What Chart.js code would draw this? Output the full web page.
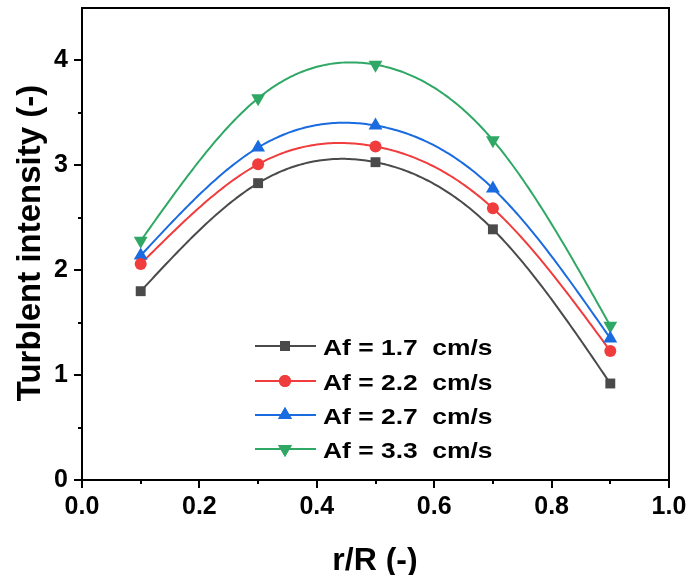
<!DOCTYPE html>
<html>
<head>
<meta charset="utf-8">
<script src="https://cdn.jsdelivr.net/npm/chart.js@4/dist/chart.umd.min.js"></script>
<style>
html,body{margin:0;padding:0;background:#fff;}
#wrap{width:688px;height:575px;position:relative;}
</style>
</head>
<body>
<div id="wrap"><canvas id="c" width="688" height="575"></canvas></div>
<script>
// ---- data ----
const rR = [0.1, 0.3, 0.5, 0.7, 0.9];
const af17 = [1.80, 2.83, 3.03, 2.39, 0.92];
const af22 = [2.06, 3.01, 3.18, 2.59, 1.23];
const af27 = [2.14, 3.17, 3.38, 2.78, 1.35];
const af33 = [2.28, 3.64, 3.96, 3.24, 1.47];
const seriesLabels = ['Af = 1.7  cm/s', 'Af = 2.2  cm/s', 'Af = 2.7  cm/s', 'Af = 3.3  cm/s'];
const xTickLabels = ['0.0', '0.2', '0.4', '0.6', '0.8', '1.0'];
const yTickLabels = ['0', '1', '2', '3', '4'];
const xTitle = 'r/R (-)';
const yTitle = 'Turblent intensity (-)';

const colors = ['#4a4a4a', '#f03c3c', '#1a6be0', '#30a865'];
const styles = [
  {pointStyle: 'rect', rotation: 0, radius: 7},
  {pointStyle: 'circle', rotation: 0, radius: 6},
  {pointStyle: 'triangle', rotation: 0, radius: 8},
  {pointStyle: 'triangle', rotation: 180, radius: 8}
];
const allSeries = [af17, af22, af27, af33];

const FONT = '"Liberation Sans", Arial, Helvetica, sans-serif';

function toPts(vals) { return rR.map((x, i) => ({x: x, y: vals[i]})); }

// natural cubic spline through data points (rendering only)
function splineFn(xs, ys) {
  const n = xs.length;
  const h = [], al = [], l = [1], mu = [0], z = [0], c = new Array(n).fill(0), b = [], d = [];
  for (let i = 0; i < n - 1; i++) h.push(xs[i + 1] - xs[i]);
  for (let i = 1; i < n - 1; i++) al[i] = 3 / h[i] * (ys[i + 1] - ys[i]) - 3 / h[i - 1] * (ys[i] - ys[i - 1]);
  for (let i = 1; i < n - 1; i++) {
    l[i] = 2 * (xs[i + 1] - xs[i - 1]) - h[i - 1] * mu[i - 1];
    mu[i] = h[i] / l[i];
    z[i] = (al[i] - h[i - 1] * z[i - 1]) / l[i];
  }
  l[n - 1] = 1; z[n - 1] = 0; c[n - 1] = 0;
  for (let j = n - 2; j >= 0; j--) {
    c[j] = z[j] - mu[j] * c[j + 1];
    b[j] = (ys[j + 1] - ys[j]) / h[j] - h[j] * (c[j + 1] + 2 * c[j]) / 3;
    d[j] = (c[j + 1] - c[j]) / (3 * h[j]);
  }
  return function (x) {
    let j = 0;
    while (j < n - 2 && x > xs[j + 1]) j++;
    const dx = x - xs[j];
    return ys[j] + b[j] * dx + c[j] * dx * dx + d[j] * dx * dx * dx;
  };
}

function isMajor(v, step) { return Math.abs(v / step - Math.round(v / step)) < 1e-6; }

const decor = {
  id: 'decor',
  beforeDatasetsDraw(chart) {
    const ctx = chart.ctx, xs = chart.scales.x, ys = chart.scales.y;
    ctx.save();
    chart.data.datasets.forEach((ds, k) => {
      const px = ds.data.map(p => p.x), py = ds.data.map(p => p.y);
      const f = splineFn(px, py);
      ctx.beginPath();
      const steps = 200;
      for (let s = 0; s <= steps; s++) {
        const xv = px[0] + (px[px.length - 1] - px[0]) * s / steps;
        const X = xs.getPixelForValue(xv), Y = ys.getPixelForValue(f(xv));
        if (s === 0) ctx.moveTo(X, Y); else ctx.lineTo(X, Y);
      }
      ctx.strokeStyle = colors[k];
      ctx.lineWidth = 2;
      ctx.stroke();
    });
    ctx.restore();
  },
  afterDraw(chart) {
    const ctx = chart.ctx, a = chart.chartArea, xs = chart.scales.x, ys = chart.scales.y;
    ctx.save();
    // frame
    ctx.strokeStyle = '#000';
    ctx.lineWidth = 2;
    ctx.strokeRect(a.left, a.top, a.right - a.left, a.bottom - a.top);
    // ticks
    ctx.beginPath();
    xs.ticks.forEach((t) => {
      const X = Math.round(xs.getPixelForValue(t.value));
      const len = isMajor(t.value, 0.2) ? 8 : 4;
      ctx.moveTo(X, a.bottom); ctx.lineTo(X, a.bottom + len);
    });
    ys.ticks.forEach((t) => {
      const Y = Math.round(ys.getPixelForValue(t.value));
      const len = isMajor(t.value, 1) ? 8 : 4;
      ctx.moveTo(a.left, Y); ctx.lineTo(a.left - len, Y);
    });
    ctx.stroke();
    // axis titles
    ctx.fillStyle = '#000';
    ctx.font = 'bold 32px ' + FONT;
    ctx.textAlign = 'center';
    ctx.textBaseline = 'alphabetic';
    ctx.fillText(xTitle, 375, 570);
    ctx.save();
    ctx.translate(40, 243);
    ctx.rotate(-Math.PI / 2);
    ctx.font = 'bold 33px ' + FONT;
    ctx.fillText(yTitle, 0, 0);
    ctx.restore();
    // legend
    const rows = [346, 381, 415, 449];
    chart.data.datasets.forEach((ds, k) => {
      const Y = rows[k];
      ctx.beginPath();
      ctx.moveTo(255, Y); ctx.lineTo(316, Y);
      ctx.strokeStyle = colors[k]; ctx.lineWidth = 2; ctx.stroke();
      ctx.fillStyle = colors[k];
      Chart.helpers.drawPoint(ctx, {pointStyle: styles[k].pointStyle, rotation: styles[k].rotation, radius: styles[k].radius, borderWidth: 0}, 285, Y);
      ctx.fill();
      ctx.save();
      ctx.fillStyle = '#000';
      ctx.font = 'bold 22px ' + FONT;
      ctx.textAlign = 'left';
      ctx.textBaseline = 'alphabetic';
      ctx.translate(323, Y + 9);
      ctx.scale(1.2, 1);
      ctx.fillText(ds.label, 0, 0);
      ctx.restore();
    });
    ctx.restore();
  }
};

const datasets = allSeries.map((vals, k) => ({
  label: seriesLabels[k],
  data: toPts(vals),
  showLine: false,
  borderColor: colors[k],
  backgroundColor: colors[k],
  pointStyle: styles[k].pointStyle,
  rotation: styles[k].rotation,
  pointRadius: styles[k].radius,
  pointHoverRadius: styles[k].radius,
  pointBorderWidth: 0
}));

new Chart(document.getElementById('c'), {
  type: 'scatter',
  data: {datasets: datasets},
  plugins: [decor],
  options: {
    responsive: false,
    animation: false,
    events: [],
    layout: {padding: {left: 0, right: 19, top: 7, bottom: 0}},
    plugins: {legend: {display: false}, tooltip: {enabled: false}},
    scales: {
      x: {
        type: 'linear', min: 0, max: 1,
        afterFit(s) { s.height = 95; s.paddingLeft = 0; s.paddingRight = 0; },
        border: {display: false},
        grid: {display: true, drawOnChartArea: false, drawTicks: true, tickLength: 8, tickColor: 'rgba(0,0,0,0)'},
        ticks: {
          stepSize: 0.1, autoSkip: false, maxRotation: 0, padding: 4, color: '#000',
          font: {family: FONT, size: 25, weight: 'bold'},
          callback: (v) => (isMajor(v, 0.2) ? xTickLabels[Math.round(v / 0.2)] : '')
        }
      },
      y: {
        type: 'linear', min: 0, max: 4.5,
        afterBuildTicks(s) { s.ticks = s.ticks.filter(t => t.value < 4.49); },
        afterFit(s) { s.width = 82; s.paddingTop = 0; s.paddingBottom = 0; },
        border: {display: false},
        grid: {display: true, drawOnChartArea: false, drawTicks: true, tickLength: 8, tickColor: 'rgba(0,0,0,0)'},
        ticks: {
          stepSize: 0.5, autoSkip: false, padding: 6, color: '#000',
          font: {family: FONT, size: 25, weight: 'bold'},
          callback: (v) => (isMajor(v, 1) ? yTickLabels[Math.round(v)] : '')
        }
      }
    }
  }
});
</script>
</body>
</html>
